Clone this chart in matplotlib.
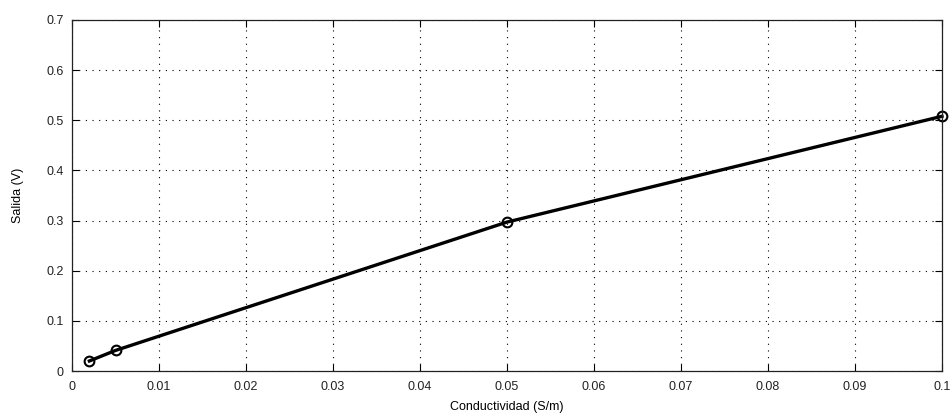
import numpy as np
import matplotlib
matplotlib.use("Agg")
from matplotlib import pyplot as plt

conductividad = [0.002, 0.005, 0.05, 0.1]
salida = [0.02, 0.041, 0.297, 0.508]

xticks = [0, 0.01, 0.02, 0.03, 0.04, 0.05, 0.06, 0.07, 0.08, 0.09, 0.1]
xtick_labels = ["0", "0.01", "0.02", "0.03", "0.04", "0.05", "0.06", "0.07", "0.08", "0.09", "0.1"]
yticks = [0, 0.1, 0.2, 0.3, 0.4, 0.5, 0.6, 0.7]
ytick_labels = ["0", "0.1", "0.2", "0.3", "0.4", "0.5", "0.6", "0.7"]

plt.rcParams['font.family'] = ['Liberation Sans', 'DejaVu Sans']
plt.rcParams['font.size'] = 9

fig = plt.figure(figsize=(9.52, 4.2), dpi=100)
ax = fig.add_axes([72/952, 49/420, 870/952, 351/420])

ax.plot(conductividad, salida, color="black", linewidth=2.4,
        marker="o", markersize=7, markerfacecolor="none",
        markeredgecolor="black", markeredgewidth=1.5, clip_on=False)

ax.set_xlim(0, 0.1)
ax.set_ylim(0, 0.7)
ax.set_xticks(xticks)
ax.set_xticklabels(xtick_labels)
ax.set_yticks(yticks)
ax.set_yticklabels(ytick_labels)

ax.grid(True, color="black", linestyle=(0, (1, 5)), linewidth=0.8)
ax.tick_params(direction="in", length=5, width=0.8, top=True, right=True,
               colors="black", labelcolor="#222222")
ax.tick_params(axis="x", pad=7)
ax.tick_params(axis="y", pad=6)
for s in ax.spines.values():
    s.set_linewidth(0.9)
    s.set_color("#222222")

ax.set_xlabel("Conductividad (S/m)", labelpad=6)
ax.set_ylabel("Salida (V)", labelpad=16)

fig.savefig("out.png", dpi=100)
